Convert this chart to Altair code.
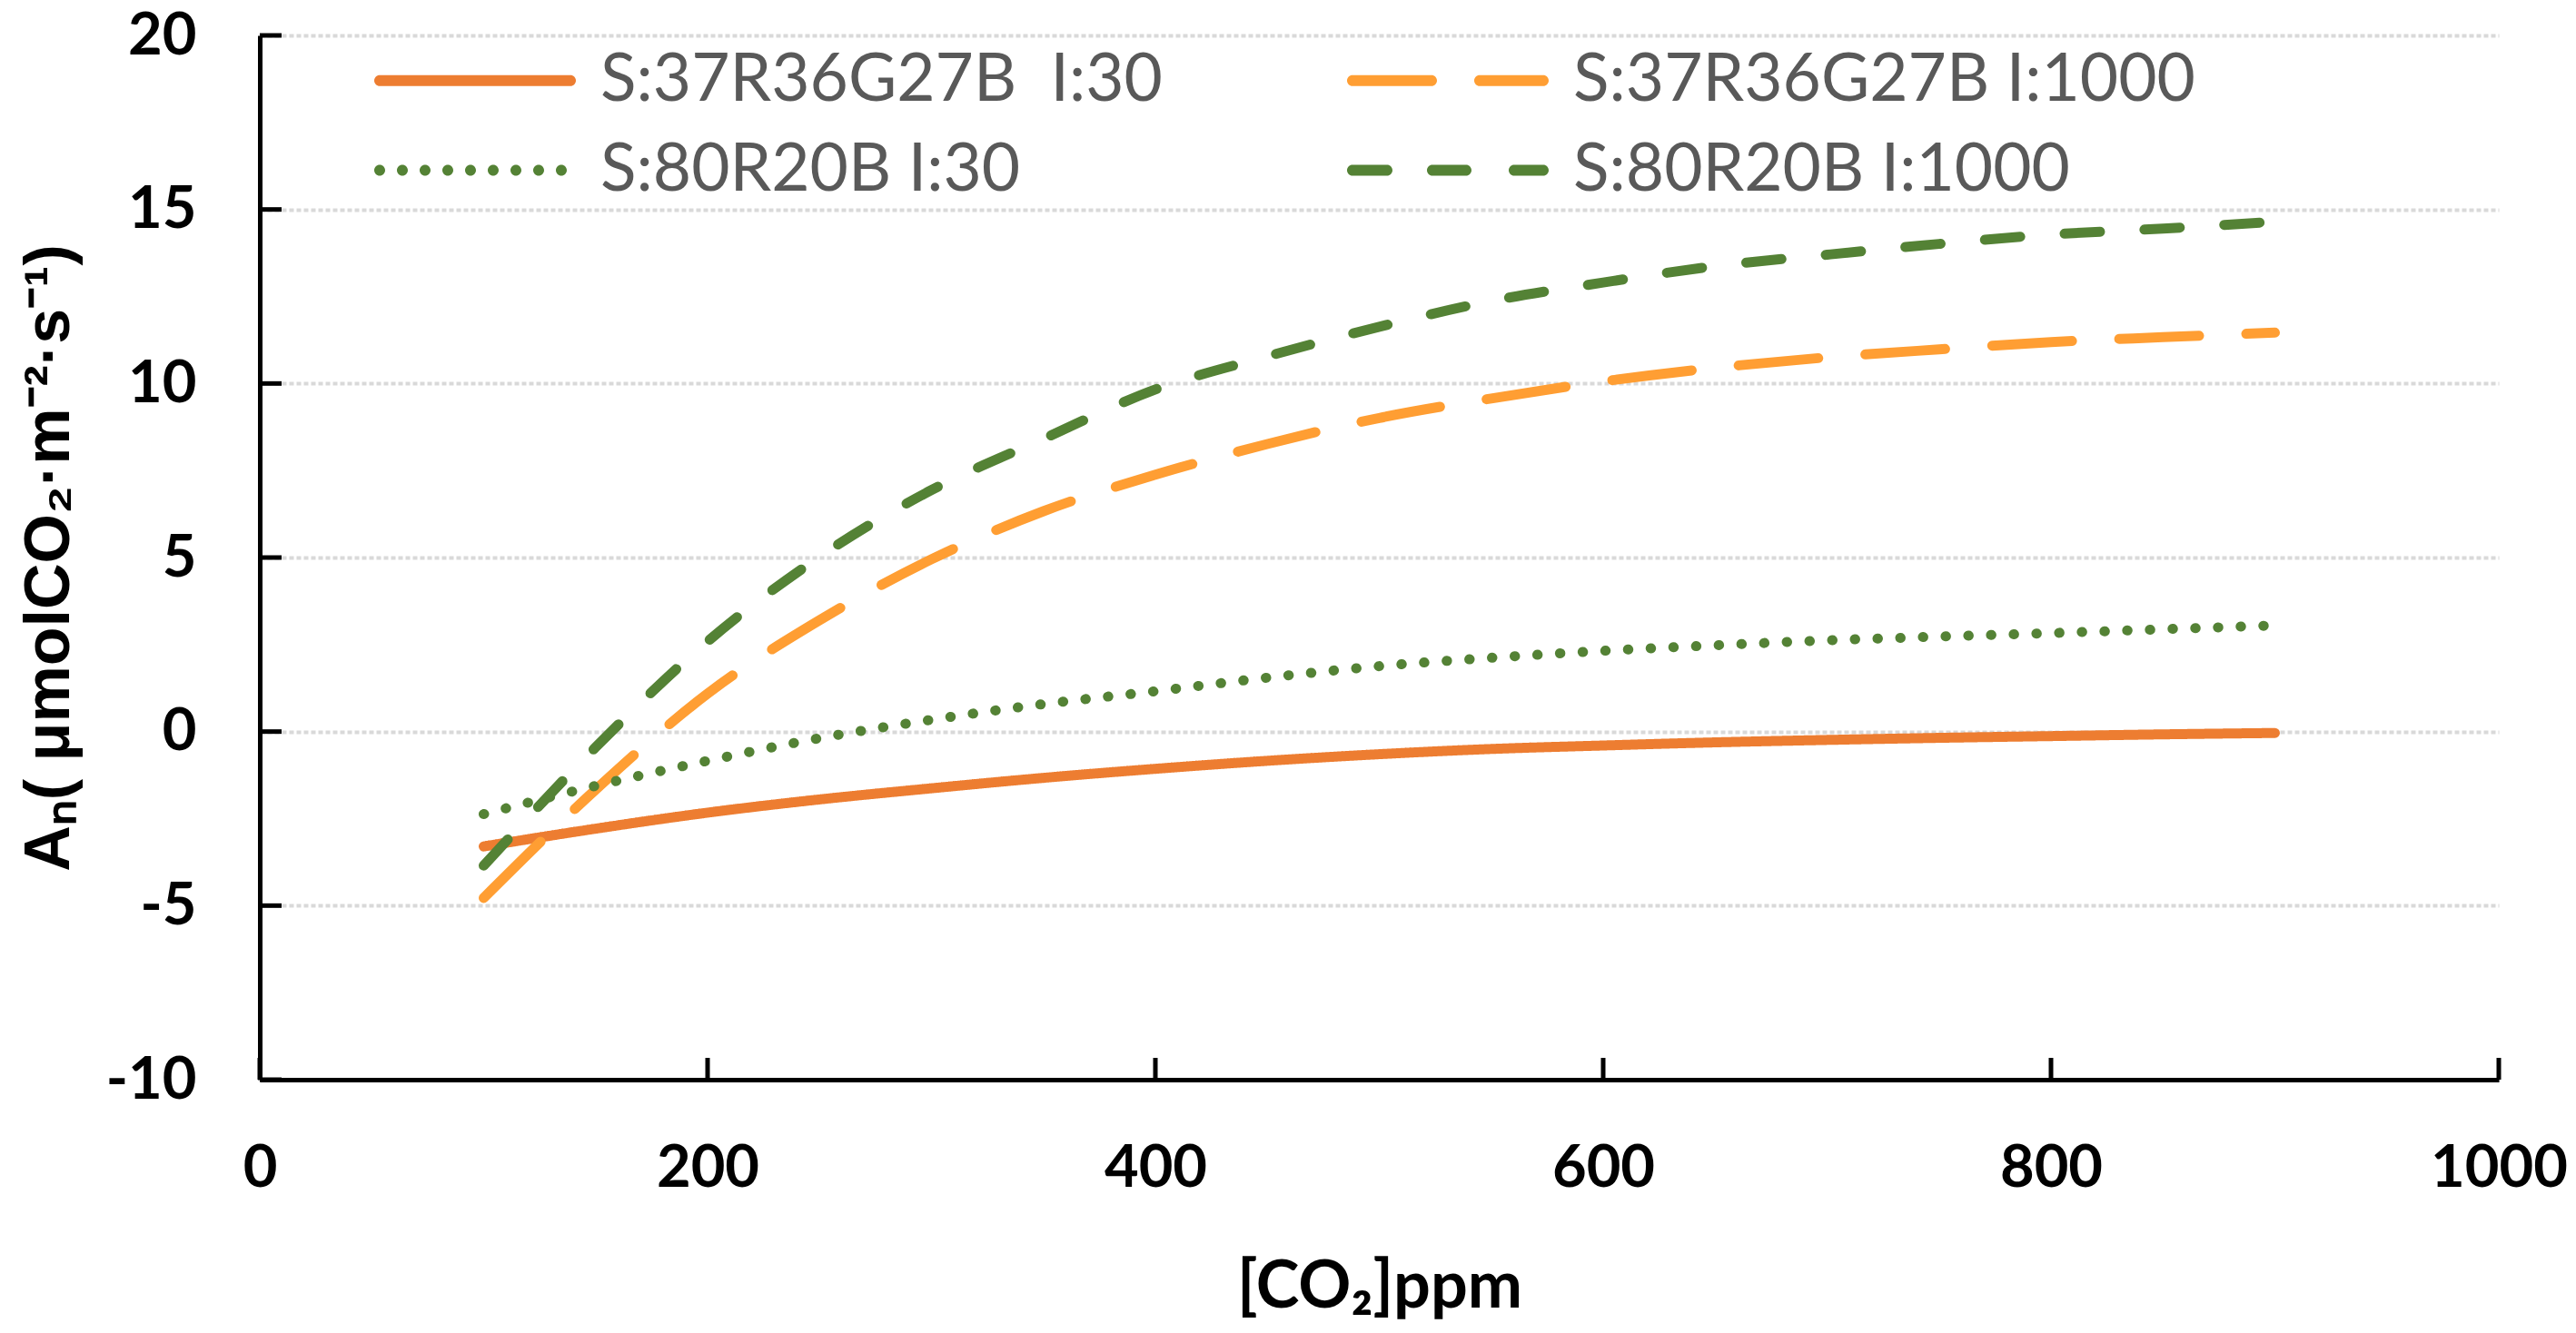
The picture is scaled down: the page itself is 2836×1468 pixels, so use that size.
import altair as alt
import pandas as pd

# ---- data ----
ppm = [100, 150, 200, 250, 300, 350, 400, 450, 500, 550, 600, 650, 700, 750, 800, 850, 900]
s1_i30 = [-3.30, -2.79, -2.33, -1.95, -1.63, -1.33, -1.07, -0.84, -0.65, -0.50, -0.40, -0.31, -0.24, -0.18, -0.13, -0.08, -0.04]
s1_i1000 = [-4.78, -1.67, 1.09, 3.20, 4.95, 6.33, 7.38, 8.26, 9.01, 9.57, 10.06, 10.45, 10.75, 10.98, 11.19, 11.33, 11.46]
s2_i30 = [-2.37, -1.56, -0.84, -0.19, 0.34, 0.79, 1.16, 1.55, 1.88, 2.12, 2.32, 2.48, 2.62, 2.73, 2.83, 2.94, 3.05]
s2_i1000 = [-3.85, -0.45, 2.59, 5.02, 6.94, 8.41, 9.83, 10.78, 11.63, 12.37, 12.90, 13.37, 13.70, 14.01, 14.28, 14.45, 14.65]

series_names = [
    "S:37R36G27B\u00a0\u00a0I:30",
    "S:37R36G27B I:1000",
    "S:80R20B I:30",
    "S:80R20B I:1000",
]
series_values = [s1_i30, s1_i1000, s2_i30, s2_i1000]
series_colors = ["#ED7D31", "#FF9E33", "#548235", "#548235"]
series_dashes = [[1, 0], [88, 52], [0.5, 24.5], [39, 49]]

x_ticks = [0, 200, 400, 600, 800, 1000]
y_ticks = [-10, -5, 0, 5, 10, 15, 20]

rows = []
for name, vals in zip(series_names, series_values):
    for x, y in zip(ppm, vals):
        rows.append({"ppm": x, "An": y, "series": name})
df = pd.DataFrame(rows)

LABEL_FONT = "Lato"
W, H = 2465, 1150

# ---- legend symbol shapes (unit-square SVG paths, scaled by sqrt(size)/2) ----
SYM = 73.0
S = SYM / 2


def capsule(x0, x1, r=6.0):
    ux = lambda p: p / S - 1
    a, b, rr = ux(x0 + r), ux(x1 - r), r / S
    return (f"M{a:.4f},{-rr:.4f}H{b:.4f}A{rr:.4f},{rr:.4f} 0 0 1 {b:.4f},{rr:.4f}"
            f"H{a:.4f}A{rr:.4f},{rr:.4f} 0 0 1 {a:.4f},{-rr:.4f}Z")


legend_shapes = [
    capsule(0, 222),
    capsule(0, 99) + capsule(140, 222),
    "".join(capsule(25 * k, 25 * k + 12) for k in range(9)),
    capsule(0, 50) + capsule(88, 137) + capsule(178, 222),
]

x_scale = alt.Scale(domain=[0, 1000], nice=False, zero=False)
y_scale = alt.Scale(domain=[-10, 20], nice=False, zero=False)

x_axis = alt.Axis(
    values=x_ticks, labelExpr="'' + datum.value", labelFont=LABEL_FONT, labelFontSize=65,
    labelFontWeight="bold", labelColor="black", labelPadding=66, labelFlush=False,
    labelOverlap=False, ticks=False, tickSize=0, grid=False, domainColor="black", domainWidth=5,
    title="[CO\u2082]ppm", titleFont=LABEL_FONT, titleFontSize=72, titleFontWeight="bold",
    titleColor="black", titleX=W / 2, titleY=250, titleAlign="center", titleBaseline="alphabetic",
)
y_axis = alt.Axis(
    values=y_ticks, labelExpr="'' + datum.value", labelFont=LABEL_FONT, labelFontSize=65,
    labelFontWeight="bold", labelColor="black", labelPadding=70, labelFlush=False,
    labelOverlap=False, ticks=False, tickSize=0, grid=True, gridColor="#D9D9D9",
    gridDash=[5, 3], gridWidth=4, domainColor="black", domainWidth=5,
    title="A\u2099( \u03bcmolCO\u2082\u00b7m\u207b\u00b2\u00b7s\u207b\u00b9)",
    titleFont="Liberation Sans", titleFontSize=70, titleFontWeight="bold", titleColor="black",
    titleAngle=-90, titleX=-232, titleY=H / 2, titleAlign="center", titleBaseline="middle",
)

legend = alt.Legend(
    title=None, orient="none", legendX=126, legendY=13, columns=2, direction="horizontal",
    columnPadding=203, rowPadding=25, padding=0,
    symbolSize=SYM * SYM, symbolStrokeWidth=0, symbolOpacity=1,
    labelFont=LABEL_FONT, labelFontSize=73, labelColor="#595959",
    labelOffset=176, labelLimit=0,
)

lines = alt.Chart(df).mark_line(
    strokeWidth=11, strokeCap="round", strokeJoin="round", interpolate="monotone"
).encode(
    x=alt.X("ppm:Q", scale=x_scale, axis=x_axis),
    y=alt.Y("An:Q", scale=y_scale, axis=y_axis),
    color=alt.Color("series:N", scale=alt.Scale(domain=series_names, range=series_colors),
                    sort=series_names, legend=None),
    strokeDash=alt.StrokeDash("series:N", scale=alt.Scale(domain=series_names, range=series_dashes),
                              sort=series_names, legend=None),
)

# legend carrier: no visible data, only the legend built from the same series
key = alt.Chart(df).transform_filter("datum.ppm < 0").mark_point(
    filled=True, size=SYM * SYM, opacity=1
).encode(
    x=alt.X("ppm:Q", scale=x_scale),
    y=alt.Y("An:Q", scale=y_scale),
    color=alt.Color("series:N", scale=alt.Scale(domain=series_names, range=series_colors),
                    sort=series_names, legend=legend),
    shape=alt.Shape("series:N", scale=alt.Scale(domain=series_names, range=legend_shapes),
                    sort=series_names, legend=legend),
)

yt = alt.Chart(pd.DataFrame({"v": y_ticks})).mark_rule(
    color="black", strokeWidth=5, x2Offset=24
).encode(x=alt.datum(0), x2=alt.datum(0), y=alt.Y("v:Q", scale=y_scale))

xt = alt.Chart(pd.DataFrame({"v": x_ticks})).mark_rule(
    color="black", strokeWidth=5, y2Offset=-24
).encode(x=alt.X("v:Q", scale=x_scale), y=alt.datum(-10), y2=alt.datum(-10))

chart = alt.layer(lines, key, yt, xt).resolve_scale(
    color="independent", shape="independent", strokeDash="independent"
).properties(
    width=W, height=H,
    autosize=alt.AutoSizeParams(type="none"),
    padding={"left": 278, "top": 31, "right": 77, "bottom": 271},
    background="white",
).configure_view(stroke="transparent")

chart.save("out.html", embed_options={"renderer": "svg", "actions": False})
